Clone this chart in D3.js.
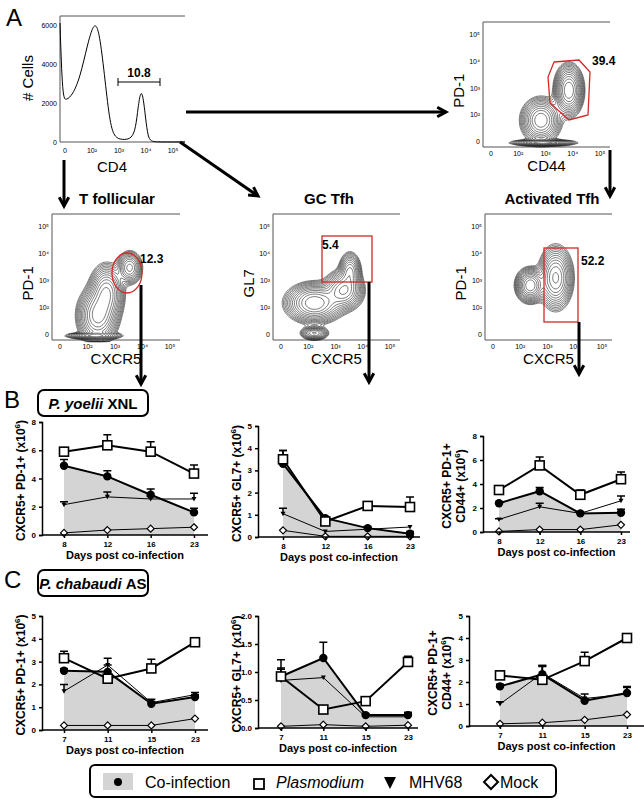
<!DOCTYPE html>
<html>
<head>
<meta charset="utf-8">
<script src="https://cdn.jsdelivr.net/npm/d3@7"></script>
<style>
  body { margin: 0; background: #fff; }
  text { font-family: Arial, "Liberation Sans", sans-serif; }
</style>
</head>
<body>
<svg id="fig" width="644" height="800"></svg>
<script>
// ---- data: panel B (P. yoelii XNL) ----
var daysB = [8, 12, 16, 23];
var b1Co = [4.9, 4.15, 2.85, 1.6],   b1CoErr = [0.45, 0.4, 0.4, 0.3];
var b1Pl = [5.9, 6.35, 5.9, 4.35],   b1PlErr = [0.25, 0.75, 0.7, 0.6];
var b1Mh = [2.15, 2.7, 2.55, 2.55],  b1MhErr = [0.2, 0.35, 0.2, 0.4];
var b1Mo = [0.15, 0.35, 0.45, 0.55], b1MoErr = [0, 0, 0, 0];
var b2Co = [3.3, 0.85, 0.4, 0.15],   b2CoErr = [0.6, 0.05, 0.05, 0.1];
var b2Pl = [3.5, 0.7, 1.4, 1.35],    b2PlErr = [0.4, 0.15, 0.15, 0.45];
var b2Mh = [1.05, 0.25, 0.35, 0.45], b2MhErr = [0.25, 0, 0, 0];
var b2Mo = [0.3, 0.03, 0.03, 0.03],  b2MoErr = [0, 0, 0, 0];
var b3Co = [2.4, 3.4, 1.55, 1.6],    b3CoErr = [0.1, 0.3, 0.1, 0.3];
var b3Pl = [3.5, 5.55, 3.1, 4.4],    b3PlErr = [0.15, 0.7, 0.4, 0.6];
var b3Mh = [1.05, 2.1, 1.55, 2.6],   b3MhErr = [0.05, 0.3, 0.1, 0.4];
var b3Mo = [0.05, 0.2, 0.2, 0.6],    b3MoErr = [0, 0, 0, 0];
// ---- data: panel C (P. chabaudi AS) ----
var daysC = [7, 11, 15, 23];
var c1Co = [2.6, 2.55, 1.15, 1.45],  c1CoErr = [0.1, 0.3, 0.1, 0.1];
var c1Pl = [3.15, 2.25, 2.7, 3.85],  c1PlErr = [0.3, 0.2, 0.4, 0.2];
var c1Mh = [1.7, 2.85, 1.2, 1.55],   c1MhErr = [0.3, 0.3, 0.15, 0.1];
var c1Mo = [0.2, 0.2, 0.2, 0.5],     c1MoErr = [0, 0, 0, 0];
var c2Co = [0.92, 1.25, 0.23, 0.23], c2CoErr = [0.15, 0.28, 0.02, 0.05];
var c2Pl = [0.92, 0.33, 0.48, 1.18], c2PlErr = [0.3, 0.02, 0.05, 0.1];
var c2Mh = [0.85, 0.9, 0.2, 0.2],    c2MhErr = [0.2, 0, 0, 0.05];
var c2Mo = [0.03, 0.06, 0.03, 0.05], c2MoErr = [0, 0, 0, 0];
var c3Co = [1.8, 2.35, 1.15, 1.5],   c3CoErr = [0.1, 0.4, 0.1, 0.3];
var c3Pl = [2.3, 2.1, 2.95, 4.0],    c3PlErr = [0.2, 0.6, 0.4, 0.1];
var c3Mh = [1.0, 2.4, 1.25, 1.45],   c3MhErr = [0.1, 0.35, 0.2, 0.3];
var c3Mo = [0.1, 0.15, 0.28, 0.52],  c3MoErr = [0, 0, 0, 0];

var ticksB1 = [0, 2, 4, 6, 8], ticksB2 = [0, 1, 2, 3, 4, 5], ticksC1 = [0, 1, 2, 3, 4, 5];
var ticksC2 = [0, 0.5, 1.0, 1.5, 2.0];

// ---- data: panel A (flow cytometry) ----
var logTicks = ["0", "10²", "10³", "10⁴", "10⁵"];
var histX = [0.0, 0.02, 0.05, 0.1, 0.16, 0.22, 0.26, 0.29, 0.32, 0.36, 0.4, 0.44, 0.5, 0.56, 0.6, 0.62, 0.64, 0.66, 0.68, 0.7, 0.72, 0.76, 0.8, 1.0];
var histY = [6100, 2200, 2150, 2400, 3300, 5000, 5900, 6050, 5400, 3200, 900, 200, 120, 140, 500, 1500, 2500, 2550, 1500, 400, 60, 10, 0, 0];
// gaussian populations per plot: [cx, cy, sx, sy, weight] in frame fractions
var popsCD44 = [[0.45, 0.22, 0.07, 0.08, 1], [0.67, 0.46, 0.05, 0.09, 1.3], [0.47, 0.04, 0.12, 0.012, 0.7]];
var popsTfol = [[0.35, 0.2, 0.07, 0.1, 1], [0.42, 0.38, 0.06, 0.1, 0.9], [0.6, 0.58, 0.045, 0.06, 0.6], [0.32, 0.04, 0.1, 0.012, 0.6]];
var popsGC = [[0.32, 0.3, 0.1, 0.07, 1], [0.55, 0.4, 0.07, 0.07, 0.8], [0.6, 0.55, 0.04, 0.07, 0.5], [0.32, 0.06, 0.05, 0.025, 0.5]];
var popsAct = [[0.35, 0.44, 0.05, 0.06, 1.2], [0.55, 0.5, 0.06, 0.11, 1]];

var svg = d3.select("#fig");

function arrow(x1, y1, x2, y2) {
  svg.append("line").attr("x1", x1).attr("y1", y1).attr("x2", x2).attr("y2", y2)
    .attr("stroke", "#000").attr("stroke-width", 3);
  var a = Math.atan2(y2 - y1, x2 - x1), L = 10, w = 0.5;
  svg.append("path")
    .attr("d", "M" + (x2 - L * Math.cos(a - w)) + "," + (y2 - L * Math.sin(a - w)) +
      "L" + x2 + "," + y2 + "L" + (x2 - L * Math.cos(a + w)) + "," + (y2 - L * Math.sin(a + w)))
    .attr("fill", "none").attr("stroke", "#000").attr("stroke-width", 3);
}

function smallText(x, y, t, anchor) {
  svg.append("text").attr("x", x).attr("y", y).attr("font-size", 7)
    .attr("text-anchor", anchor || "middle").text(t);
}

// frame with log-ish axes for flow plots
function flowFrame(x0, y0, w, h, xl, yl) {
  svg.append("path").attr("d", "M" + x0 + "," + y0 + "H" + (x0 + w) + "M" + x0 + "," + y0 + "V" + (y0 + h) + "H" + (x0 + w))
    .attr("fill", "none").attr("stroke", "#555").attr("stroke-width", 1);
  var xs = d3.scalePoint().domain(logTicks).range([x0 + 8, x0 + w - 10]);
  var ys = d3.scalePoint().domain(logTicks).range([y0 + h - 6, y0 + 12]);
  logTicks.forEach(function (t) {
    smallText(xs(t), y0 + h + 9, t);
    smallText(x0 - 3, ys(t) + 3, t, "end");
  });
  svg.append("text").attr("x", x0 + w / 2).attr("y", y0 + h + 24).attr("font-size", 15)
    .attr("text-anchor", "middle").text(xl);
  svg.append("text").attr("transform", "translate(" + (x0 - 19) + "," + (y0 + h * 0.55) + ") rotate(-90)")
    .attr("font-size", 15).attr("text-anchor", "middle").text(yl);
}

function flowContours(x0, y0, w, h, pops) {
  var n = 80, vals = new Array(n * n);
  for (var j = 0; j < n; j++) for (var i = 0; i < n; i++) {
    var fx = i / (n - 1), fy = 1 - j / (n - 1), v = 0;
    pops.forEach(function (p) {
      v += p[4] * Math.exp(-0.5 * (Math.pow((fx - p[0]) / p[2], 2) + Math.pow((fy - p[1]) / p[3], 2)));
    });
    vals[j * n + i] = v;
  }
  var mx = d3.max(vals);
  var th = d3.range(13).map(function (k) { return mx * 0.04 * Math.pow(1.28, k); });
  var contours = d3.contours().size([n, n]).thresholds(th)(vals);
  var tr = d3.geoTransform({ point: function (px, py) {
    this.stream.point(x0 + px / (n - 1) * w, y0 + py / (n - 1) * h);
  }});
  svg.append("g").selectAll("path").data(contours).enter().append("path")
    .attr("d", d3.geoPath(tr)).attr("fill", "none").attr("stroke", "#222").attr("stroke-width", 0.6);
}

// ---- panel A ----
svg.append("text").attr("x", 6).attr("y", 26).attr("font-size", 24).text("A");
(function () {
  var x0 = 60, y0 = 16, w = 125, h = 126;
  var xs = d3.scaleLinear().domain([0, 1]).range([x0, x0 + w]);
  var ys = d3.scaleLinear().domain([0, 6000]).range([y0 + h, y0 + 9]);
  svg.append("path").attr("d", "M" + x0 + "," + y0 + "H" + (x0 + w) + "M" + x0 + "," + y0 + "V" + (y0 + h) + "H" + (x0 + w))
    .attr("fill", "none").attr("stroke", "#555");
  var line = d3.line().x(function (d, i) { return xs(histX[i]); }).y(function (d) { return ys(d); }).curve(d3.curveBasis);
  svg.append("path").attr("d", line(histY)).attr("fill", "none").attr("stroke", "#000").attr("stroke-width", 1);
  [0, 2000, 4000, 6000].forEach(function (t) { smallText(x0 - 3, ys(t) + 3, t, "end"); });
  var xt = d3.scalePoint().domain(logTicks).range([x0 + 5, x0 + w - 12]);
  logTicks.forEach(function (t) { smallText(xt(t), y0 + h + 11, t); });
  svg.append("text").attr("x", x0 + 52).attr("y", y0 + h + 30).attr("font-size", 15).attr("text-anchor", "middle").text("CD4");
  svg.append("text").attr("transform", "translate(" + 33 + "," + (y0 + 62) + ") rotate(-90)")
    .attr("font-size", 15).attr("text-anchor", "middle").text("# Cells");
  svg.append("path").attr("d", "M118,78V86M118,82H160M160,78V86").attr("stroke", "#000").attr("fill", "none");
  svg.append("text").attr("x", 139).attr("y", 77).attr("font-size", 12).attr("font-weight", "bold")
    .attr("text-anchor", "middle").text("10.8");
})();

flowFrame(483, 22, 127, 125, "CD44", "PD-1");
flowContours(483, 22, 127, 125, popsCD44);
svg.append("path").attr("d", "M554,62L579,60L590,72L588,115L569,120L550,103L548,77Z")
  .attr("fill", "none").attr("stroke", "#d62728").attr("stroke-width", 1.3);
svg.append("text").attr("x", 592).attr("y", 65).attr("font-size", 12).attr("font-weight", "bold").text("39.4");

arrow(186, 112, 446, 112);
arrow(180, 142, 258, 196);
arrow(64, 160, 64, 206);
arrow(610, 150, 610, 196);

function title(x, t) {
  svg.append("text").attr("x", x).attr("y", 204).attr("font-size", 15).attr("font-weight", "bold")
    .attr("text-anchor", "middle").text(t);
}
title(117, "T follicular"); title(329, "GC Tfh"); title(552, "Activated Tfh");

flowFrame(52, 214, 128, 126, "CXCR5", "PD-1");
flowContours(52, 214, 128, 126, popsTfol);
svg.append("ellipse").attr("cx", 127).attr("cy", 273).attr("rx", 15).attr("ry", 20)
  .attr("fill", "none").attr("stroke", "#d62728").attr("stroke-width", 1.3);
svg.append("text").attr("x", 140).attr("y", 263).attr("font-size", 12).attr("font-weight", "bold").text("12.3");

flowFrame(273, 214, 127, 126, "CXCR5", "GL7");
flowContours(273, 214, 127, 126, popsGC);
svg.append("rect").attr("x", 322).attr("y", 236).attr("width", 50).attr("height", 46)
  .attr("fill", "none").attr("stroke", "#d62728").attr("stroke-width", 1.3);
svg.append("text").attr("x", 322).attr("y", 249).attr("font-size", 12).attr("font-weight", "bold").text("5.4");

flowFrame(485, 214, 127, 126, "CXCR5", "PD-1");
flowContours(485, 214, 127, 126, popsAct);
svg.append("rect").attr("x", 544).attr("y", 248).attr("width", 34).attr("height", 74)
  .attr("fill", "none").attr("stroke", "#d62728").attr("stroke-width", 1.3);
svg.append("text").attr("x", 581).attr("y", 265).attr("font-size", 12).attr("font-weight", "bold").text("52.2");

arrow(141, 285, 141, 384);
arrow(369, 282, 369, 382);
arrow(579, 322, 579, 374);

// ---- panels B and C ----
function panelTag(letter, y, italicPart, rest) {
  svg.append("text").attr("x", 4).attr("y", y + 12).attr("font-size", 24).text(letter);
  svg.append("rect").attr("x", 38).attr("y", y - 6).attr("width", 110).attr("height", 26).attr("rx", 6)
    .attr("fill", "#fff").attr("stroke", "#000").attr("stroke-width", 2);
  var t = svg.append("text").attr("x", 93).attr("y", y + 13).attr("font-size", 15).attr("font-weight", "bold")
    .attr("text-anchor", "middle");
  t.append("tspan").attr("font-style", "italic").text(italicPart);
  t.append("tspan").text(rest);
}
panelTag("B", 396, "P. yoelii ", "XNL");
panelTag("C", 576, "P. chabaudi ", "AS");

function lineChart(c) {
  var x = d3.scalePoint().domain(c.days).range([c.xl, c.xr]);
  var y = d3.scaleLinear().domain([0, c.max]).range([c.y0, c.yTop]);
  var g = svg.append("g");
  var px = function (d, i) { return x(c.days[i]); };
  g.append("path").datum(c.co)
    .attr("d", d3.area().x(px).y0(c.y0).y1(function (d) { return y(d); }))
    .attr("fill", "#d4d4d4");
  var series = [
    { v: c.mo, e: c.moE, w: 1, sym: "diamond" },
    { v: c.mh, e: c.mhE, w: 1, sym: "tri" },
    { v: c.co, e: c.coE, w: 2, sym: "circle" },
    { v: c.pl, e: c.plE, w: 2, sym: "square" }
  ];
  series.forEach(function (s) {
    g.append("path").datum(s.v).attr("d", d3.line().x(px).y(function (d) { return y(d); }))
      .attr("fill", "none").attr("stroke", "#000").attr("stroke-width", s.w);
    s.v.forEach(function (v, i) {
      if (s.e[i] > 0) {
        var xx = x(c.days[i]), yt = y(v + s.e[i]);
        g.append("path").attr("d", "M" + xx + "," + y(v) + "V" + yt + "M" + (xx - 4) + "," + yt + "H" + (xx + 4))
          .attr("stroke", "#000").attr("stroke-width", 1.5);
      }
    });
  });
  series.forEach(function (s) {
    s.v.forEach(function (v, i) {
      var xx = x(c.days[i]), yy = y(v);
      if (s.sym === "circle") g.append("circle").attr("cx", xx).attr("cy", yy).attr("r", 4.2).attr("fill", "#000");
      if (s.sym === "square") g.append("rect").attr("x", xx - 4.5).attr("y", yy - 4.5).attr("width", 9).attr("height", 9)
        .attr("fill", "#fff").attr("stroke", "#000").attr("stroke-width", 1.6);
      if (s.sym === "tri") g.append("path").attr("d", "M" + (xx - 2.5) + "," + (yy - 2) + "H" + (xx + 2.5) + "L" + xx + "," + (yy + 2.5) + "Z").attr("fill", "#000");
      if (s.sym === "diamond") g.append("path").attr("d", "M" + xx + "," + (yy - 3.5) + "L" + (xx + 3.5) + "," + yy + "L" + xx + "," + (yy + 3.5) + "L" + (xx - 3.5) + "," + yy + "Z")
        .attr("fill", "#fff").attr("stroke", "#000").attr("stroke-width", 1.2);
    });
  });
  var ya = g.append("g").attr("transform", "translate(" + c.ax + ",0)")
    .call(d3.axisLeft(y).tickValues(c.ticks).tickSize(3).tickFormat(c.fmt || d3.format("d")));
  var xa = g.append("g").attr("transform", "translate(0," + c.y0 + ")")
    .call(d3.axisBottom(x).tickSize(3));
  xa.select(".domain").attr("d", "M" + c.ax + ",0H" + c.xEnd);
  [ya, xa].forEach(function (a) {
    a.selectAll("path,line").attr("stroke", "#000").attr("stroke-width", 1.5);
    a.selectAll("text").attr("font-size", 8).attr("font-weight", "bold").attr("font-family", "Arial");
  });
  svg.append("text").attr("x", (c.ax + c.xEnd) / 2).attr("y", c.y0 + 24).attr("font-size", 11)
    .attr("font-weight", "bold").attr("text-anchor", "middle").text("Days post co-infection");
  var yl = svg.append("text").attr("transform", "translate(" + (c.ax - 17) + "," + ((c.y0 + c.yTop) / 2 + 2) + ") rotate(-90)")
    .attr("font-size", 12).attr("font-weight", "bold").attr("text-anchor", "middle");
  c.ylab.forEach(function (l, k) {
    var line = yl.append("tspan").attr("x", 0).attr("dy", k === 0 ? (c.ylab.length > 1 ? -15 : 0) : 14);
    var parts = l.split("(x10");
    if (parts.length > 1) {
      line.append("tspan").text(parts[0] + "(x10");
      line.append("tspan").attr("font-size", 8).attr("dy", -5).text("6");
      line.append("tspan").attr("dy", 5).text(")");
    } else {
      line.text(l);
    }
  });
}

lineChart({ days: daysB, xl: 64, xr: 194, ax: 42, xEnd: 208, y0: 535, yTop: 422, max: 8, ticks: ticksB1,
  co: b1Co, coE: b1CoErr, pl: b1Pl, plE: b1PlErr, mh: b1Mh, mhE: b1MhErr, mo: b1Mo, moE: b1MoErr,
  ylab: ["CXCR5+ PD-1+ (x10"] });
lineChart({ days: daysB, xl: 283, xr: 410, ax: 258, xEnd: 420, y0: 537, yTop: 426, max: 5, ticks: ticksB2,
  co: b2Co, coE: b2CoErr, pl: b2Pl, plE: b2PlErr, mh: b2Mh, mhE: b2MhErr, mo: b2Mo, moE: b2MoErr,
  ylab: ["CXCR5+ GL7+ (x10"] });
lineChart({ days: daysB, xl: 499, xr: 621, ax: 483, xEnd: 630, y0: 532, yTop: 436, max: 8, ticks: ticksB1,
  co: b3Co, coE: b3CoErr, pl: b3Pl, plE: b3PlErr, mh: b3Mh, mhE: b3MhErr, mo: b3Mo, moE: b3MoErr,
  ylab: ["CXCR5+ PD-1+", "CD44+ (x10"] });

lineChart({ days: daysC, xl: 64, xr: 195, ax: 42, xEnd: 208, y0: 730, yTop: 616, max: 5, ticks: ticksC1,
  co: c1Co, coE: c1CoErr, pl: c1Pl, plE: c1PlErr, mh: c1Mh, mhE: c1MhErr, mo: c1Mo, moE: c1MoErr,
  ylab: ["CXCR5+ PD-1+ (x10"] });
lineChart({ days: daysC, xl: 281, xr: 408, ax: 258, xEnd: 418, y0: 728, yTop: 616, max: 2, ticks: ticksC2,
  fmt: d3.format(".1f"),
  co: c2Co, coE: c2CoErr, pl: c2Pl, plE: c2PlErr, mh: c2Mh, mhE: c2MhErr, mo: c2Mo, moE: c2MoErr,
  ylab: ["CXCR5+ GL7+ (x10"] });
lineChart({ days: daysC, xl: 500, xr: 627, ax: 469, xEnd: 644, y0: 726, yTop: 616, max: 5, ticks: ticksC1,
  co: c3Co, coE: c3CoErr, pl: c3Pl, plE: c3PlErr, mh: c3Mh, mhE: c3MhErr, mo: c3Mo, moE: c3MoErr,
  ylab: ["CXCR5+ PD-1+", "CD44+ (x10"] });

// ---- legend ----
(function () {
  var g = svg.append("g");
  g.append("rect").attr("x", 90).attr("y", 765).attr("width", 466).attr("height", 32).attr("rx", 5)
    .attr("fill", "#fff").attr("stroke", "#000").attr("stroke-width", 2);
  g.append("rect").attr("x", 103).attr("y", 773).attr("width", 30).attr("height", 17).attr("fill", "#d4d4d4");
  g.append("circle").attr("cx", 118).attr("cy", 782).attr("r", 4).attr("fill", "#000");
  g.append("text").attr("x", 145).attr("y", 788).attr("font-size", 16).text("Co-infection");
  g.append("rect").attr("x", 254).attr("y", 779).attr("width", 10).attr("height", 10)
    .attr("fill", "#fff").attr("stroke", "#000").attr("stroke-width", 1.8);
  g.append("text").attr("x", 276).attr("y", 788).attr("font-size", 16).attr("font-style", "italic").text("Plasmodium");
  g.append("path").attr("d", "M384,777H396L390,789Z").attr("fill", "#000");
  g.append("text").attr("x", 409).attr("y", 788).attr("font-size", 16).text("MHV68");
  g.append("path").attr("d", "M491,775L498,782L491,789L484,782Z").attr("fill", "#fff").attr("stroke", "#000").attr("stroke-width", 2);
  g.append("text").attr("x", 500).attr("y", 788).attr("font-size", 16).text("Mock");
})();
</script>
</body>
</html>
